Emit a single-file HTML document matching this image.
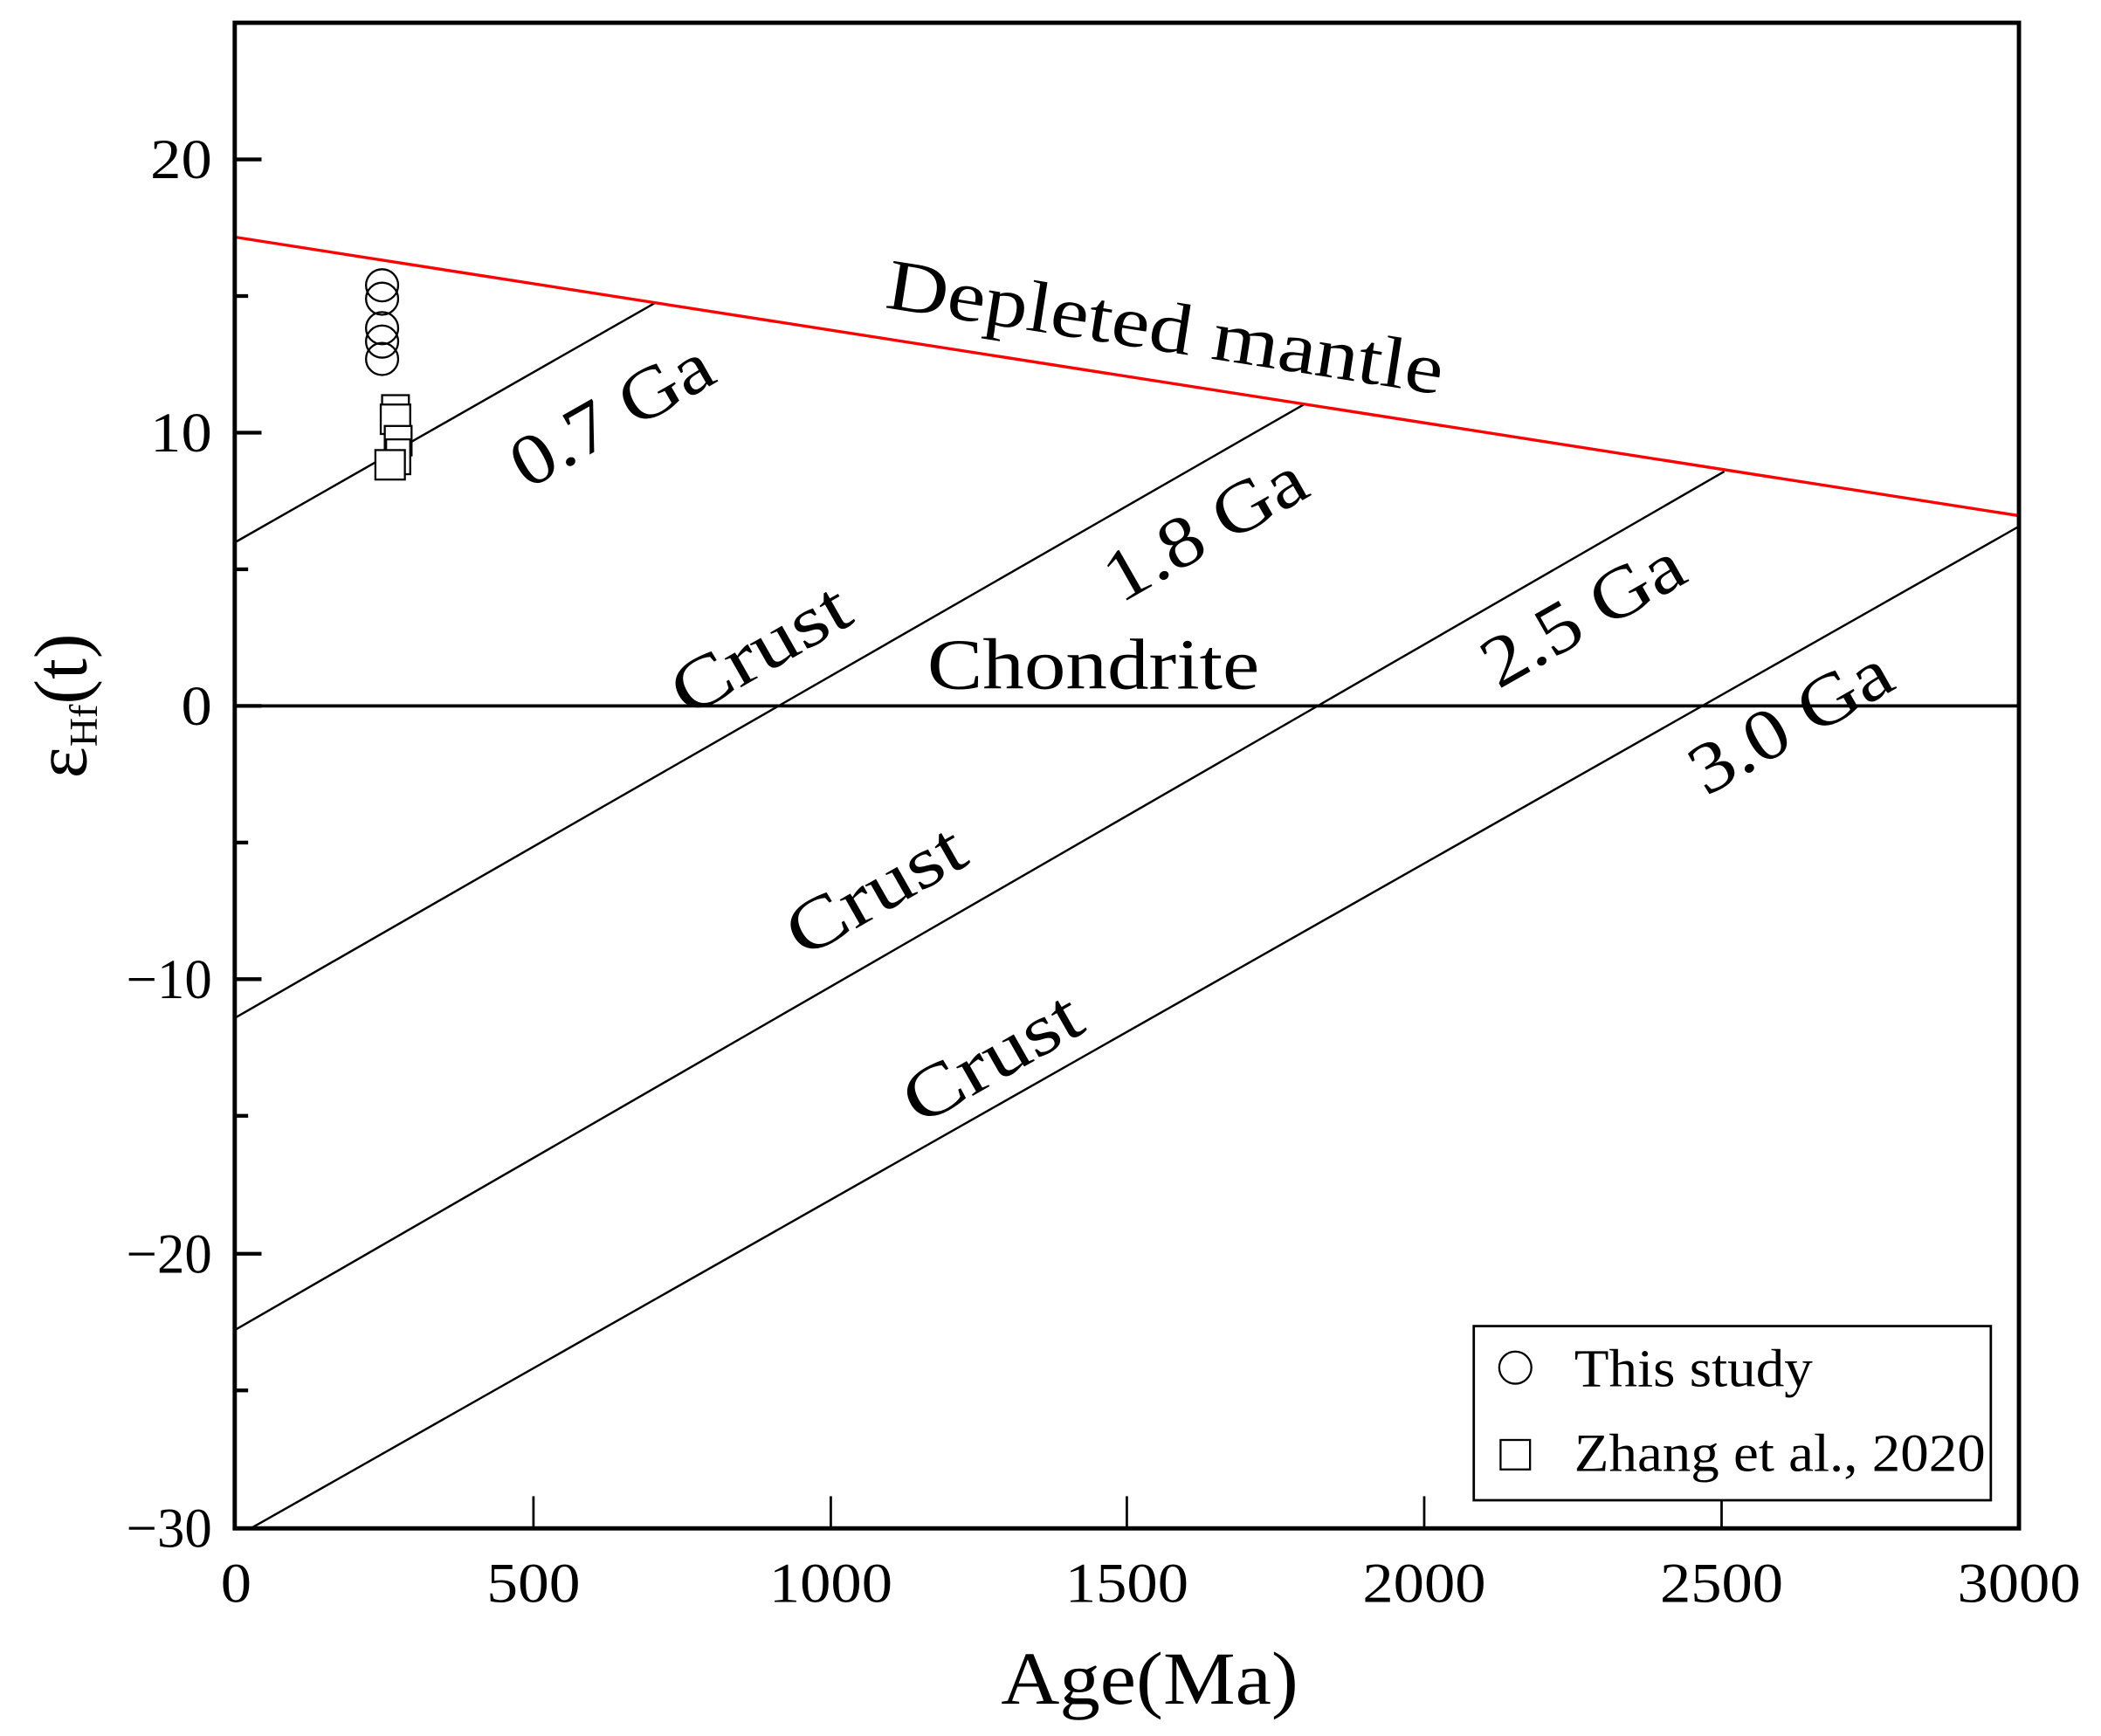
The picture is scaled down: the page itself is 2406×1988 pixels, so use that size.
<!DOCTYPE html>
<html><head><style>html,body{margin:0;padding:0;background:#fff}svg{display:block}</style></head><body>
<svg width="2406" height="1988" viewBox="0 0 1568 1296" xmlns="http://www.w3.org/2000/svg" font-family="Liberation Serif, serif">
<rect width="1568" height="1296" fill="#fff"/>
<g stroke="#000" stroke-width="1.6" fill="none">
<line x1="175" y1="405" x2="489" y2="226"/>
<line x1="175" y1="760" x2="973" y2="302"/>
<line x1="175" y1="993" x2="1287" y2="352"/>
<line x1="187" y1="1141" x2="1507" y2="393"/>
<line x1="175" y1="527" x2="1507" y2="527" stroke-width="2.5"/>
</g>
<line x1="175" y1="177" x2="1507" y2="385" stroke="#f00" stroke-width="2.2"/>
<g stroke="#000" stroke-width="1.5" fill="none">
<circle cx="285" cy="268" r="12"/><circle cx="285" cy="255" r="12"/><circle cx="285" cy="245" r="12"/><circle cx="285" cy="223" r="12"/><circle cx="285" cy="213" r="12"/>
<rect x="285" y="295" width="20" height="18" fill="#fff"/><rect x="284" y="302" width="22" height="22" fill="#fff"/><rect x="287" y="318" width="20" height="22" fill="#fff"/><rect x="288" y="328" width="18" height="26" fill="#fff"/><rect x="280" y="336" width="22" height="22" fill="#fff"/>
</g>
<rect x="175" y="17" width="1332" height="1124" fill="none" stroke="#000" stroke-width="3.2"/>
<g stroke="#000" stroke-width="2.8">
<line x1="175" y1="119" x2="195" y2="119"/><line x1="175" y1="323" x2="195" y2="323"/><line x1="175" y1="527" x2="195" y2="527"/><line x1="175" y1="731" x2="195" y2="731"/><line x1="175" y1="936" x2="195" y2="936"/>
<line x1="175" y1="221" x2="185" y2="221"/><line x1="175" y1="425" x2="185" y2="425"/><line x1="175" y1="629" x2="185" y2="629"/><line x1="175" y1="833" x2="185" y2="833"/><line x1="175" y1="1038" x2="185" y2="1038"/>
</g>
<g stroke="#000" stroke-width="1.8">
<line x1="398" y1="1141" x2="398" y2="1117"/><line x1="620" y1="1141" x2="620" y2="1117"/><line x1="841" y1="1141" x2="841" y2="1117"/><line x1="1063" y1="1141" x2="1063" y2="1117"/><line x1="1285" y1="1141" x2="1285" y2="1117"/>
</g>
<g font-size="42" text-anchor="end" fill="#000" lengthAdjust="spacingAndGlyphs">
<text x="158" y="133" textLength="46" lengthAdjust="spacingAndGlyphs">20</text><text x="158" y="337" textLength="46" lengthAdjust="spacingAndGlyphs">10</text><text x="158" y="541" textLength="23" lengthAdjust="spacingAndGlyphs">0</text><text x="158" y="745" textLength="64" lengthAdjust="spacingAndGlyphs">−10</text><text x="158" y="950" textLength="64" lengthAdjust="spacingAndGlyphs">−20</text><text x="158" y="1155" textLength="64" lengthAdjust="spacingAndGlyphs">−30</text>
</g>
<g font-size="42" text-anchor="middle" fill="#000">
<text x="176" y="1196" textLength="23" lengthAdjust="spacingAndGlyphs">0</text><text x="398" y="1196" textLength="70" lengthAdjust="spacingAndGlyphs">500</text><text x="620" y="1196" textLength="92" lengthAdjust="spacingAndGlyphs">1000</text><text x="841" y="1196" textLength="92" lengthAdjust="spacingAndGlyphs">1500</text><text x="1063" y="1196" textLength="92" lengthAdjust="spacingAndGlyphs">2000</text><text x="1285" y="1196" textLength="92" lengthAdjust="spacingAndGlyphs">2500</text><text x="1507" y="1196" textLength="92" lengthAdjust="spacingAndGlyphs">3000</text>
</g>
<text x="858" y="1272" font-size="56" text-anchor="middle" textLength="222" lengthAdjust="spacingAndGlyphs">Age(Ma)</text>
<text transform="translate(64,527) rotate(-90)" font-size="56" text-anchor="middle">ε<tspan font-size="30" dy="8">Hf</tspan><tspan dy="-8">(t)</tspan></text>
<g font-size="54" text-anchor="middle" fill="#000">
<text transform="translate(867,262) rotate(8.9)" textLength="420" lengthAdjust="spacingAndGlyphs">Depleted  mantle</text>
<text transform="translate(465,325) rotate(-29.7)" textLength="165" lengthAdjust="spacingAndGlyphs">0.7 Ga</text>
<text transform="translate(908,410) rotate(-29.7)" textLength="165" lengthAdjust="spacingAndGlyphs">1.8 Ga</text>
<text transform="translate(1190,474) rotate(-29.7)" textLength="165" lengthAdjust="spacingAndGlyphs">2.5 Ga</text>
<text transform="translate(1345,554) rotate(-29.7)" textLength="165" lengthAdjust="spacingAndGlyphs">3.0 Ga</text>
<text transform="translate(576,500) rotate(-29.7)" textLength="145" lengthAdjust="spacingAndGlyphs">Crust</text>
<text transform="translate(662,680) rotate(-29.7)" textLength="145" lengthAdjust="spacingAndGlyphs">Crust</text>
<text transform="translate(749,805) rotate(-29.7)" textLength="145" lengthAdjust="spacingAndGlyphs">Crust</text>
<text x="816" y="514" textLength="248" lengthAdjust="spacingAndGlyphs">Chondrite</text>
</g>
<rect x="1100" y="990" width="386" height="130" fill="#fff" stroke="#000" stroke-width="1.8"/>
<circle cx="1131" cy="1021" r="12" fill="none" stroke="#000" stroke-width="1.5"/>
<rect x="1120" y="1075" width="22" height="22" fill="none" stroke="#000" stroke-width="1.5"/>
<g font-size="40"><text x="1175" y="1035" textLength="178" lengthAdjust="spacingAndGlyphs">This study</text><text x="1175" y="1098" textLength="307" lengthAdjust="spacingAndGlyphs">Zhang et al., 2020</text></g>
</svg>
</body></html>
